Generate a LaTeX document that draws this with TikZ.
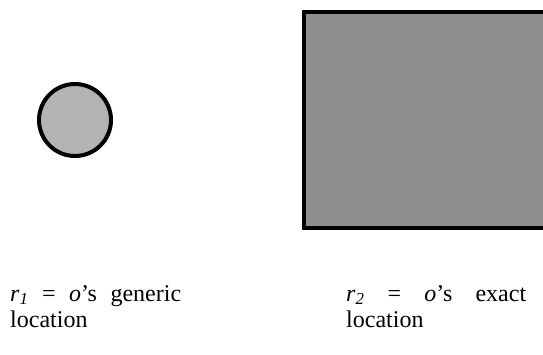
\documentclass[tikz,border=0pt]{standalone}
\usepackage{fontspec}
\setmainfont{Liberation Serif}
\definecolor{lightfill}{HTML}{B3B3B3}
\definecolor{darkfill}{HTML}{8E8E8E}
\tikzset{
  shapeline/.style={draw=black, line width=4pt},
  caption/.style={anchor=north west, inner sep=0pt, align=justify,
    font=\fontsize{24}{26}\selectfont},
}
\newcommand{\subi}[1]{\textsubscript{\textit{#1}}}
\begin{document}
\begin{tikzpicture}[x=1pt,y=-1pt]
\useasboundingbox (0,0) rectangle (543,354);
\clip (0,0) rectangle (543,354);
\node[shapeline, circle, fill=lightfill, minimum size=72pt, inner sep=0pt, outer sep=0pt] (generic) at (75,120) {};
\path[shapeline, fill=darkfill] (304,12) rectangle (560,228);
\node[caption, text width=171pt] (cap1) at (10,285) {\textit{r}\subi{1} = \textit{o}’s generic \mbox{location}};
\node[caption, text width=180pt] (cap2) at (346,285) {\textit{r}\subi{2} = \textit{o}’s exact \mbox{location}};
\end{tikzpicture}
\end{document}
